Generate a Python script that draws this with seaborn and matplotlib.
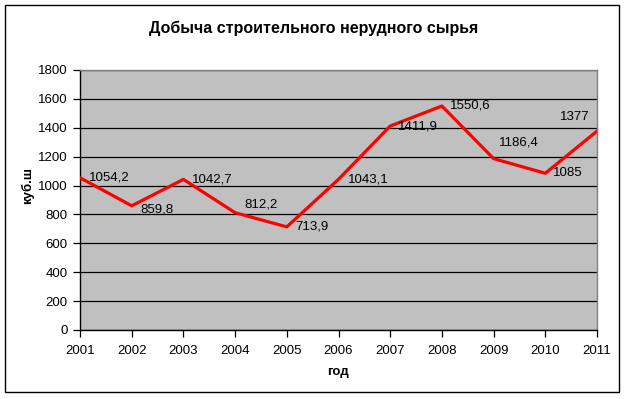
import pandas as pd
import seaborn as sns
import matplotlib.pyplot as plt
from matplotlib.patches import Rectangle

# данные
years = [2001, 2002, 2003, 2004, 2005, 2006, 2007, 2008, 2009, 2010, 2011]
volumes = [1054.2, 859.8, 1042.7, 812.2, 713.9, 1043.1, 1411.9, 1550.6, 1186.4, 1085, 1377]
value_labels = ['1054,2', '859,8', '1042,7', '812,2', '713,9', '1043,1',
                '1411,9', '1550,6', '1186,4', '1085', '1377']
y_ticks = [0, 200, 400, 600, 800, 1000, 1200, 1400, 1600, 1800]

df = pd.DataFrame({'год': years, 'объем': volumes})

sns.set_style('white')
plt.rcParams['font.family'] = ['Liberation Sans', 'DejaVu Sans']
plt.rcParams['text.color'] = 'black'
plt.rcParams['axes.labelcolor'] = 'black'
plt.rcParams['xtick.color'] = 'black'
plt.rcParams['ytick.color'] = 'black'

fig = plt.figure(figsize=(6.28, 3.99), dpi=100)
ax = fig.add_axes([80 / 628, 1 - 330 / 399, 517 / 628, 260 / 399])
ax.set_facecolor('#c0c0c0')

sns.lineplot(data=df, x='год', y='объем', ax=ax, color='#ff0000', linewidth=2.3, zorder=3)

# подписи значений (смещение в пикселях)
offsets = [(9, 0), (9, -4), (9, 0), (9, 8), (9, 0), (9, 0),
           (8, 0), (8, 1), (5, 16), (8, 0), (-7, 14)]
for x, y, lab, (dx, dy) in zip(years, volumes, value_labels, offsets):
    ax.annotate(lab, (x, y), xytext=(dx, dy), textcoords='offset pixels',
                ha='right' if dx < 0 else 'left', va='center',
                fontsize=9.5, color='black', zorder=4)

ax.set_xlim(years[0], years[-1])
ax.set_ylim(0, 1800)
ax.set_xticks(years)
ax.set_yticks(y_ticks)
ax.yaxis.grid(True, color='black', linewidth=0.9)
ax.set_axisbelow(True)

ax.tick_params(axis='both', which='both', direction='out', length=5, width=0.9,
               color='black', labelcolor='black', labelsize=9.5, pad=4)
ax.tick_params(axis='x', pad=6)
ax.tick_params(left=True, bottom=True)

for side in ['left', 'bottom']:
    ax.spines[side].set_color('black')
    ax.spines[side].set_linewidth(1)
for side in ['top', 'right']:
    ax.spines[side].set_color('#808080')
    ax.spines[side].set_linewidth(1)

ax.set_xlabel('год', fontsize=9.5, fontweight='bold', color='black')
ax.set_ylabel('куб.ш', fontsize=9.5, fontweight='bold', color='black')
ax.xaxis.set_label_coords(258.5 / 517, -36 / 260)
ax.yaxis.set_label_coords(-46 / 517, 144 / 260)

fig.text(314 / 628, 1 - 28 / 399, 'Добыча строительного нерудного сырья',
         ha='center', va='center', fontsize=11.5, fontweight='bold', color='black')

# рамка диаграммы
fig.patches.append(Rectangle((5 / 628, 1 - 392 / 399), 614 / 628, 387 / 399,
                             transform=fig.transFigure, fill=False,
                             edgecolor='black', linewidth=1))

fig.savefig('out.png', dpi=100)
